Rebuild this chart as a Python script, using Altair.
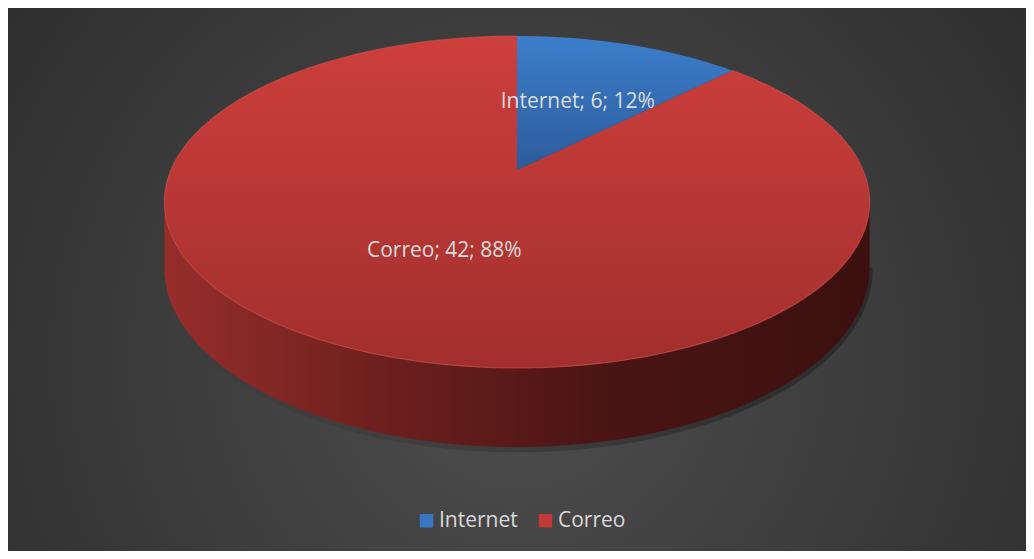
import numpy as np
import pandas as pd
import altair as alt

# ---- data ----
CATEGORIES = ["Internet", "Correo"]
VALUES = [6, 42]
TOP_GRADIENTS = [("#3c7ecb", "#2d5b9b"), ("#cd3f3c", "#a12f2d")]
LEGEND_COLORS = ["#3a77c2", "#c23a37"]

# ---- layout / 3-D look ----
W, H = 1018, 543          # plot area
CX, CY = 509, 162         # pixel position of pie apex
A, B = 346.0, 159.8       # horizontal / vertical half axes of the tilted disc
K = 0.1927                # perspective strength
DEPTH = 0.3993            # thickness of the disc (in vertical units)
FONT = "Open Sans"


def proj(theta, r=1.0, drop=0.0):
    X = r * np.sin(theta)
    Z = r * np.cos(theta)
    p = 1.0 / (1.0 + K * Z)
    return X * p, Z * p - drop * p


total = float(sum(VALUES))
rows = []
labels = []
start = 0.0
for cat, val in zip(CATEGORIES, VALUES):
    span = 2 * np.pi * val / total
    end = start + span
    n = max(int(400 * val / total), 30)
    th = np.linspace(start, end, n)
    u, v = proj(th)
    rows.append({"shape": cat, "i": 0, "u": 0.0, "v": 0.0})
    for j, (uu, vv) in enumerate(zip(u, v)):
        rows.append({"shape": cat, "i": j + 1, "u": float(uu), "v": float(vv)})
    mid = (start + end) / 2
    lu, lv = proj(np.array([mid]), r=0.5)
    pct = round(100 * val / total)
    labels.append({"cat": cat, "u": float(lu[0]), "v": float(lv[0]),
                   "text": f"{cat}; {val}; {pct}%"})
    start = end

# side wall (visible front part)
tR = np.arccos(-K)
tL = 2 * np.pi - tR
ts = np.linspace(tR, tL, 300)
tu, tv = proj(ts)
bu, bv = proj(ts[::-1], drop=DEPTH)
side = pd.DataFrame({"i": np.arange(600), "u": np.concatenate([tu, bu]),
                     "v": np.concatenate([tv, bv])})
su, sv = proj(ts, drop=DEPTH + 0.012)
shadow = pd.DataFrame({"i": np.arange(300), "u": su, "v": sv})

# rim along the visible edge of the top face
rt = np.linspace(2 * np.pi * VALUES[0] / total, 2 * np.pi, 400)
ru, rv = proj(rt)
rim = pd.DataFrame({"i": np.arange(400), "u": ru, "v": rv})

slices = pd.DataFrame(rows)
lab = pd.DataFrame(labels)

xs = alt.Scale(domain=[-CX / A, (W - CX) / A], nice=False, zero=False)
ys = alt.Scale(domain=[(CY - H) / B, CY / B], nice=False, zero=False)
X = alt.X("u:Q", scale=xs, axis=None)
Y = alt.Y("v:Q", scale=ys, axis=None)


def lin(c0, c1, x1=0, y1=0, x2=0, y2=1, mid=None):
    stops = [{"offset": 0, "color": c0}]
    if mid:
        stops += mid
    stops.append({"offset": 1, "color": c1})
    return {"gradient": "linear", "x1": x1, "y1": y1, "x2": x2, "y2": y2, "stops": stops}


bg = alt.Chart(pd.DataFrame({"a": [0]})).mark_rect(
    fill={"gradient": "radial", "x1": 0.5, "y1": 0.58, "r1": 0,
          "x2": 0.5, "y2": 0.58, "r2": 0.78,
          "stops": [{"offset": 0, "color": "#4e4e4e"},
                    {"offset": 1, "color": "#262626"}]}
).encode(x=alt.value(0), x2=alt.value(W), y=alt.value(0), y2=alt.value(H))

shadow_l = alt.Chart(shadow).mark_line(
    strokeWidth=6, strokeCap="round",
    stroke=lin("rgba(28,28,28,0)", "rgba(28,28,28,0.55)", x1=0, y1=0, x2=1, y2=0,
               mid=[{"offset": 0.35, "color": "rgba(28,28,28,0.2)"}])
).encode(x=X, y=Y, order=alt.Order("i:Q"))

side_l = alt.Chart(side).mark_line(
    interpolate="linear-closed", strokeWidth=0,
    fill=lin("#962e2b", "#3c1010", x1=0, y1=0, x2=1, y2=0,
             mid=[{"offset": 0.3, "color": "#6e201e"},
                  {"offset": 0.62, "color": "#4a1514"}])
).encode(x=X, y=Y, order=alt.Order("i:Q"))

legend_pts = alt.Chart(pd.DataFrame({"cat": CATEGORIES, "u": [0.0, 0.0],
                                     "v": [-0.5, -0.5]})).mark_square(
    size=170, opacity=1).encode(
    x=X, y=Y,
    color=alt.Color("cat:N", scale=alt.Scale(domain=CATEGORIES, range=LEGEND_COLORS),
                    sort=CATEGORIES,
                    legend=alt.Legend(orient="none", legendX=408, legendY=502,
                                      direction="horizontal", title=None,
                                      labelFont=FONT, labelFontSize=21,
                                      labelColor="#d9d9d9", symbolType="square",
                                      symbolSize=180, columnPadding=17,
                                      labelOffset=2, padding=0,
                                      symbolStrokeWidth=0)))

tops = []
for cat, (c0, c1) in zip(CATEGORIES, TOP_GRADIENTS):
    tops.append(alt.Chart(slices).transform_filter(alt.datum.shape == cat).mark_line(
        interpolate="linear-closed", strokeWidth=0, fill=lin(c0, c1)
    ).encode(x=X, y=Y, order=alt.Order("i:Q")))

rim_l = alt.Chart(rim).mark_line(stroke="#d8504c", strokeWidth=1.2,
                                 strokeOpacity=0.6).encode(
    x=X, y=Y, order=alt.Order("i:Q"))

text_l = alt.Chart(lab).mark_text(font=FONT, fontSize=21, color="#dcdcdc",
                                  align="center", baseline="middle").encode(
    x=X, y=Y, text="text:N")

chart = alt.layer(bg, shadow_l, side_l, legend_pts, tops[1], tops[0], rim_l, text_l).properties(
    width=W, height=H, padding=0, background="#2b2b2b"
).configure_view(stroke=None)

chart.save("out.html", embed_options={"renderer": "svg", "actions": False})
